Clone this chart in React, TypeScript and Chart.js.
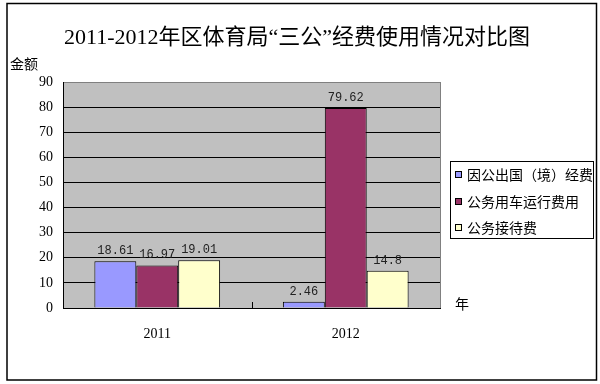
import React, { useEffect, useRef } from "react";
import { Chart, registerables } from "chart.js";

Chart.register(...registerables);

const categories = ["2011", "2012"];
const seriesNames = ["因公出国（境）经费", "公务用车运行费用", "公务接待费"];
const abroad = [18.61, 2.46];
const cars = [16.97, 79.62];
const reception = [19.01, 14.8];
const colors = ["#9999FF", "#993366", "#FFFFCC"];
const titleText = "2011-2012年区体育局“三公”经费使用情况对比图";
const yAxisTitle = "金额";
const xAxisTitle = "年";

const LATIN = "'Liberation Serif', 'Noto Sans CJK SC'";
const CJK = "'Noto Sans CJK SC', 'Liberation Serif'";

const decorPlugin = {
  id: "decor",
  beforeDraw(chart: any) {
    const { ctx, chartArea } = chart;
    ctx.save();
    ctx.fillStyle = "#ffffff";
    ctx.fillRect(0, 0, chart.width, chart.height);
    ctx.fillStyle = "#C0C0C0";
    ctx.fillRect(chartArea.left, chartArea.top, chartArea.right - chartArea.left, chartArea.bottom - chartArea.top);
    ctx.restore();
  },
  afterDatasetsDraw(chart: any) {
    const { ctx, chartArea } = chart;
    ctx.save();
    // right border of plot
    ctx.strokeStyle = "#808080";
    ctx.lineWidth = 1;
    ctx.beginPath();
    ctx.moveTo(Math.round(chartArea.right) + 0.5, chartArea.top);
    ctx.lineTo(Math.round(chartArea.right) + 0.5, chartArea.bottom);
    ctx.stroke();
    // category separator ticks
    const xs = chart.scales.x;
    ctx.strokeStyle = "#000";
    for (let i = 0; i < categories.length - 1; i++) {
      const x = Math.round((xs.getPixelForValue(i) + xs.getPixelForValue(i + 1)) / 2) + 0.5;
      ctx.beginPath();
      ctx.moveTo(x, chartArea.bottom);
      ctx.lineTo(x, chartArea.bottom - 6);
      ctx.stroke();
    }
    // data labels
    ctx.fillStyle = "#222";
    ctx.font = "12px 'Liberation Mono', monospace";
    ctx.textAlign = "center";
    ctx.textBaseline = "alphabetic";
    chart.data.datasets.forEach((ds: any, di: number) => {
      const meta = chart.getDatasetMeta(di);
      meta.data.forEach((el: any, i: number) => {
        ctx.fillText(String(ds.data[i]), el.x, el.y - 7);
      });
    });
    ctx.restore();
  },
  afterDraw(chart: any) {
    const { ctx } = chart;
    ctx.save();
    // title
    ctx.fillStyle = "#000";
    ctx.textAlign = "center";
    ctx.textBaseline = "middle";
    ctx.font = `22px ${LATIN}`;
    ctx.fillText(titleText, 297, 38);
    // axis titles
    ctx.font = `14px ${CJK}`;
    ctx.textAlign = "left";
    ctx.fillText(yAxisTitle, 10, 64);
    ctx.fillText(xAxisTitle, 455, 304);
    // legend
    ctx.strokeStyle = "#000";
    ctx.lineWidth = 1;
    ctx.strokeRect(450.5, 161.5, 143, 77);
    const ys = [175, 202, 228];
    chart.data.datasets.forEach((ds: any, i: number) => {
      const y = ys[i];
      ctx.fillStyle = ds.backgroundColor;
      ctx.fillRect(455, y - 4, 7, 7);
      ctx.strokeRect(455.5, y - 3.5, 6, 6);
      ctx.fillStyle = "#000";
      ctx.font = `14px ${CJK}`;
      ctx.textBaseline = "middle";
      ctx.fillText(ds.label, 467, y);
    });
    // outer border
    ctx.lineWidth = 1.5;
    ctx.strokeRect(7, 3.5, 589.5, 376.5);
    ctx.restore();
  },
};

export default function App() {
  const ref = useRef<HTMLCanvasElement | null>(null);
  useEffect(() => {
    if (!ref.current) return;
    const chart = new Chart(ref.current, {
      type: "bar",
      data: {
        labels: categories,
        datasets: [abroad, cars, reception].map((d, i) => ({
          label: seriesNames[i],
          data: d,
          backgroundColor: colors[i],
          borderColor: "#000",
          borderWidth: 1,
          categoryPercentage: 0.667,
          barPercentage: 1,
        })),
      },
      options: {
        animation: false,
        responsive: false,
        devicePixelRatio: 1,
        layout: { padding: { top: 82, right: 160, bottom: 26, left: 0 } },
        plugins: {
          legend: { display: false },
          title: { display: false },
          tooltip: { enabled: false },
        },
        scales: {
          x: {
            afterFit: (s: any) => { s.height = 50; },
            grid: { display: false, drawTicks: false },
            border: { display: true, color: "#000", width: 1 },
            ticks: { color: "#000", padding: 18, font: { family: LATIN, size: 14 } },
          },
          y: {
            min: 0,
            max: 90,
            afterFit: (s: any) => { s.width = 63; },
            grid: {
              drawTicks: false,
              color: (c: any) => (c.tick && c.tick.value === 90 ? "#808080" : "#000"),
              lineWidth: 1,
            },
            border: { display: true, color: "#000", width: 1 },
            ticks: { stepSize: 10, color: "#000", padding: 10, font: { family: LATIN, size: 14 } },
          },
        },
      },
      plugins: [decorPlugin],
    });
    return () => chart.destroy();
  }, []);
  return (
    <div style={{ position: "absolute", left: 0, top: 0, width: 600, height: 384 }}>
      <canvas ref={ref} width={600} height={384} />
    </div>
  );
}
